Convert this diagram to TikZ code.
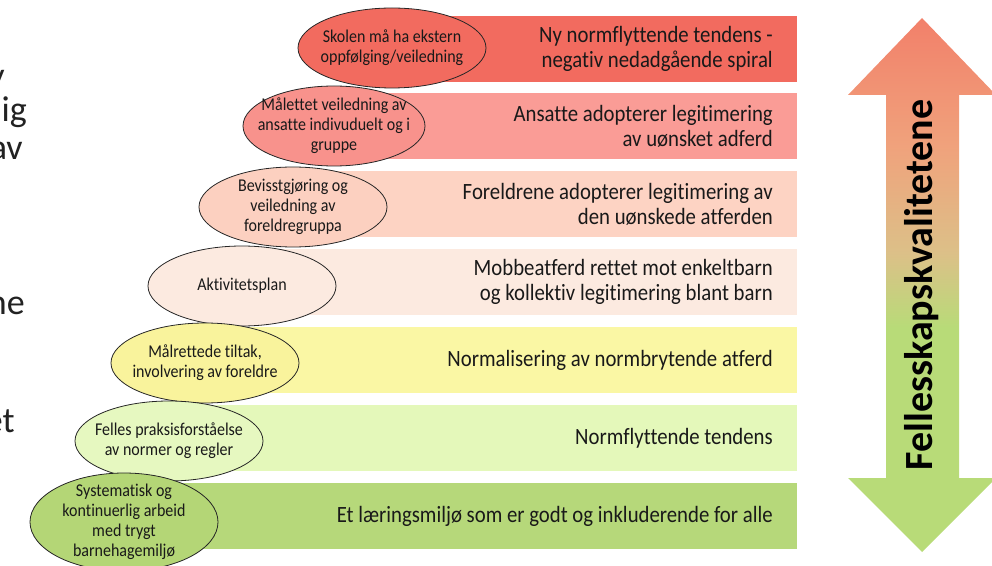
\documentclass[tikz,border=0pt]{standalone}
\usepackage{fontspec}
\setmainfont{Carlito}[Ligatures=NoCommon, FakeStretch=0.89]
\newfontfamily\plainfont{Carlito}[Ligatures=NoCommon]
\usetikzlibrary{shapes.geometric}

\definecolor{lvlA}{HTML}{F26B5F}
\definecolor{lvlB}{HTML}{FA9C96}
\definecolor{lvlC}{HTML}{FDD3C3}
\definecolor{lvlD}{HTML}{FCEAE0}
\definecolor{lvlE}{HTML}{FAF7A4}
\definecolor{lvlF}{HTML}{E4F8BA}
\definecolor{lvlG}{HTML}{B6D87A}
\definecolor{ellB}{HTML}{F8928C}
\definecolor{ellC}{HTML}{FCD0C0}
\definecolor{ellE}{HTML}{F9F39C}
\definecolor{ellF}{HTML}{E6F8C0}
\definecolor{ellG}{HTML}{B4D676}
\definecolor{pilRed}{HTML}{F2806A}
\definecolor{pilMid}{HTML}{F0A27C}
\definecolor{pilTan}{HTML}{DCC088}
\definecolor{pilGreen}{HTML}{B8DB78}
\definecolor{fragtext}{HTML}{222222}

\pgfdeclareverticalshading{fellesshade}{100bp}{%
  color(0bp)=(pilGreen); color(25bp)=(pilGreen); color(46bp)=(pilGreen);
  color(53bp)=(pilTan); color(63bp)=(pilMid); color(75bp)=(pilRed);
  color(100bp)=(pilRed)}

\tikzset{
  lvlbar/.style={rectangle, draw=none, inner sep=0pt, anchor=east, minimum height=49.5pt},
  lvltext/.style={anchor=east, align=right, inner sep=0pt, text=black!90,
    font=\fontsize{17.5}{18.75}\selectfont},
  tiltak/.style={ellipse, draw=black!85, line width=0.6pt, inner sep=-12pt,
    minimum width=141pt, minimum height=60pt, align=center, text=black!90,
    font=\fontsize{13.5}{15}\selectfont},
  frag/.style={anchor=base east, inner sep=0pt, text=fragtext,
    font=\plainfont\fontsize{27}{27}\selectfont},
}

\begin{document}
\begin{tikzpicture}[x=0.75pt,y=-0.75pt]
    \useasboundingbox (0,0) rectangle (992,566);

    % Cut-off text from the left column
    \node [frag] (fragY) at (5,88) {y};
    \node [frag] (fragLig) at (27,122) {lig};
    \node [frag] (fragAv) at (23,160) {av};
    \node [frag] (fragNe) at (25,315) {ne};
    \node [frag] (fragEt) at (15,432) {et};

    % Levels: bars, from the top
    \node [lvlbar, fill=lvlA, minimum width=304.5pt] (bar1) at (797,49) {};
    \node [lvlbar, fill=lvlB, minimum width=347.25pt] (bar2) at (797,126) {};
    \node [lvlbar, fill=lvlC, minimum width=378pt] (bar3) at (797,204) {};
    \node [lvlbar, fill=lvlD, minimum width=416.25pt] (bar4) at (797,282) {};
    \node [lvlbar, fill=lvlE, minimum width=444pt] (bar5) at (797,360) {};
    \node [lvlbar, fill=lvlF, minimum width=471pt] (bar6) at (797,438) {};
    \node [lvlbar, fill=lvlG, minimum width=504.75pt] (bar7) at (797,516) {};

    % Texts in the bars
    \node [lvltext] (txt1) at ([xshift=-18pt]bar1.east) {Ny normflyttende tendens -\\negativ nedadgående spiral};
    \node [lvltext] (txt2) at ([xshift=-18pt]bar2.east) {Ansatte adopterer legitimering\\av uønsket adferd};
    \node [lvltext] (txt3) at ([xshift=-18pt]bar3.east) {Foreldrene adopterer legitimering av\\den uønskede atferden};
    \node [lvltext] (txt4) at ([xshift=-18pt]bar4.east) {Mobbeatferd rettet mot enkeltbarn\\og kollektiv legitimering blant barn};
    \node [lvltext] (txt5) at ([xshift=-18pt]bar5.east) {Normalisering av normbrytende atferd};
    \node [lvltext] (txt6) at ([xshift=-18pt]bar6.east) {Normflyttende tendens};
    \node [lvltext] (txt7) at ([xshift=-18pt]bar7.east) {Et læringsmiljø som er godt og inkluderende for alle};

    % Measures: ellipses
    \node [tiltak, fill=lvlA] (tilt1) at (392,48) {Skolen må ha ekstern\\oppfølging/veiledning};
    \node [tiltak, fill=ellB, minimum width=136.5pt] (tilt2) at (334,126) {Målettet veiledning av\\ansatte indivuduelt og i\\gruppe};
    \node [tiltak, fill=ellC] (tilt3) at (293,207) {Bevisstgjøring og\\veiledning av\\foreldregruppa};
    \node [tiltak, fill=lvlD] (tilt4) at (242,286) {Aktivitetsplan};
    \node [tiltak, fill=ellE] (tilt5) at (205,363) {Målrettede tiltak,\\involvering av foreldre};
    \node [tiltak, fill=ellF] (tilt6) at (169,441) {Felles praksisforståelse\\av normer og regler};
    \node [tiltak, fill=ellG, minimum height=73.5pt] (tilt7) at (124,522) {Systematisk og\\kontinuerlig arbeid\\med trygt\\barnehagemiljø};

    % Double arrow on the right
    \shade [shading=fellesshade] (922,18) -- (996,95) -- (959,95) -- (959,478)
        -- (996,478) -- (922,552) -- (848,478) -- (886,478) -- (886,95)
        -- (848,95) -- cycle;
    \node [rotate=90, inner sep=0pt, font=\plainfont\bfseries\fontsize{30}{30}\selectfont] (felles) at (922,285) {Fellesskapskvalitetene};

\end{tikzpicture}
\end{document}
